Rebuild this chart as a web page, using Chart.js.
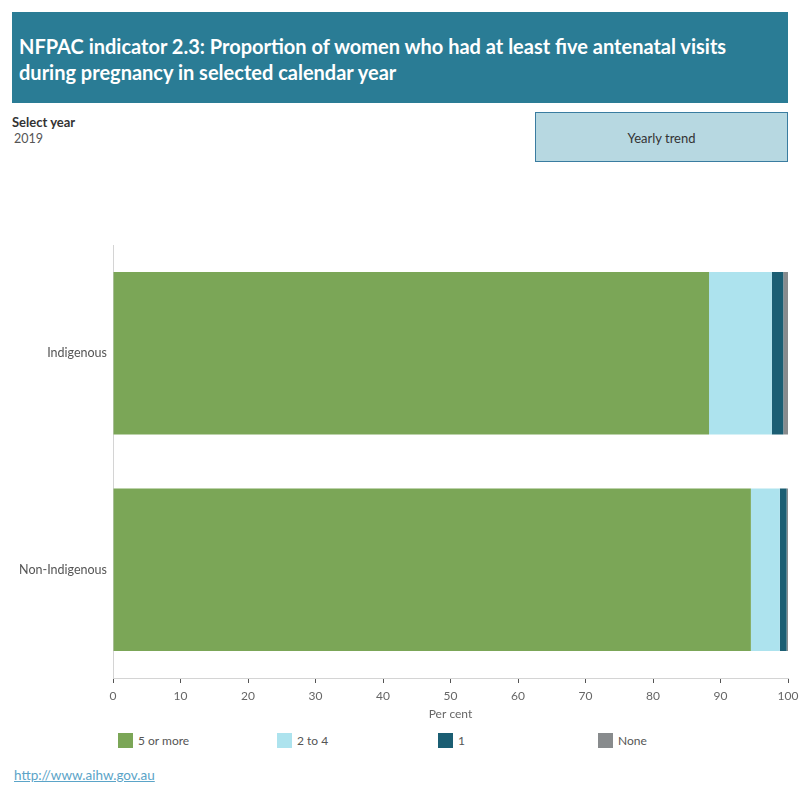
<!DOCTYPE html>
<html>
<head>
<meta charset="utf-8">
<script src="https://cdn.jsdelivr.net/npm/chart.js@4.4.0/dist/chart.umd.min.js"></script>
<style>
  body { margin: 0; width: 800px; height: 800px; background: #fff; font-family: Lato, "Open Sans", sans-serif; position: relative; overflow: hidden; }
  #header { position: absolute; left: 12px; top: 12px; width: 776px; height: 91px; background: #2a7c95; }
  #header h1 { margin: 0; position: absolute; left: 7px; top: 21px; color: #fff; font-size: 20px; font-weight: 700; line-height: 26px; }
  #selLabel { position: absolute; left: 12px; top: 114px; font-size: 13px; font-weight: 700; color: #333; }
  #selYear { position: absolute; left: 14px; top: 131px; font-size: 12.5px; color: #555; }
  #trend { position: absolute; left: 535px; top: 112px; width: 251px; height: 48px; background: #b7d8e1; border: 1px solid #3a7ca0; text-align: center; line-height: 50px; font-size: 13px; color: #333; }
  #wrap { position: absolute; left: 0; top: 230px; width: 800px; height: 500px; }
  #legend { position: absolute; top: 733px; left: 0; width: 800px; height: 20px; }
  .li { position: absolute; font-size: 12px; color: #555; line-height: 15px; }
  .li span.sw { display: inline-block; width: 15px; height: 15px; vertical-align: top; margin-right: 5px; }
  #link { position: absolute; left: 14px; top: 767px; font-size: 13.5px; color: #5ba4c8; text-decoration: underline; }
</style>
</head>
<body>
<div id="header"><h1>NFPAC indicator 2.3: Proportion of women who had at least five antenatal visits<br>during pregnancy in selected calendar year</h1></div>
<div id="selLabel">Select year</div>
<div id="selYear">2019</div>
<div id="trend">Yearly trend</div>
<div id="wrap"><canvas id="graph"></canvas></div>
<div id="legend"></div>
<div id="link">http://www.aihw.gov.au</div>
<script>
// data
const groups = ["Indigenous", "Non-Indigenous"];
const fiveOrMore = [88.3, 94.5];
const twoToFour = [9.3, 4.3];
const oneVisit = [1.7, 1.0];
const noVisits = [0.7, 0.2];
const xTicks = [0, 10, 20, 30, 40, 50, 60, 70, 80, 90, 100];

const series = [
    { label: "5 or more", data: fiveOrMore, color: "#7ba657" },
    { label: "2 to 4", data: twoToFour, color: "#ade3ee" },
    { label: "1", data: oneVisit, color: "#1b5e73" },
    { label: "None", data: noVisits, color: "#888b8d" }
];

const ctx = document.getElementById("graph").getContext("2d");
window.myChart = new Chart(ctx, {
    type: "bar",
    data: {
        labels: groups,
        datasets: series.map(s => ({
            label: s.label,
            data: s.data,
            backgroundColor: s.color,
            borderWidth: 0,
            categoryPercentage: 1,
            barPercentage: 0.75
        }))
    },
    options: {
        indexAxis: "y",
        animation: false,
        responsive: true,
        maintainAspectRatio: false,
        layout: { padding: { top: 15, right: 12, left: 0, bottom: 0 } },
        plugins: { legend: { display: false }, tooltip: { enabled: false } },
        scales: {
            x: {
                stacked: true,
                min: 0,
                max: 100,
                afterBuildTicks: axis => { axis.ticks = xTicks.map(v => ({ value: v })); },
                afterFit: axis => {
                    axis.height = 52;
                    axis.paddingLeft = 0;
                    axis.paddingRight = 0;
                },
                grid: { display: true, drawOnChartArea: false, drawTicks: true, tickLength: 5, color: "#555" },
                border: { display: true, color: "#d4d4d4" },
                ticks: { color: "#666", font: { family: "Lato", size: 12 }, padding: 6, maxRotation: 0 },
                title: { display: true, text: "Per cent", color: "#666", font: { family: "Lato", size: 12 }, padding: { top: 0, bottom: 9 } }
            },
            y: {
                stacked: true,
                afterFit: axis => { axis.width = 113; },
                grid: { display: false, drawTicks: false },
                border: { display: true, color: "#d4d4d4" },
                ticks: { color: "#555", font: { family: "Lato", size: 12.5 }, padding: 6 }
            }
        }
    }
});

// legend
const legendPos = [118, 277, 438, 598];
const legend = document.getElementById("legend");
series.forEach((s, i) => {
    const d = document.createElement("div");
    d.className = "li";
    d.style.left = legendPos[i] + "px";
    d.innerHTML = `<span class="sw" style="background:${s.color}"></span>${s.label}`;
    legend.appendChild(d);
});
</script>
</body>
</html>
